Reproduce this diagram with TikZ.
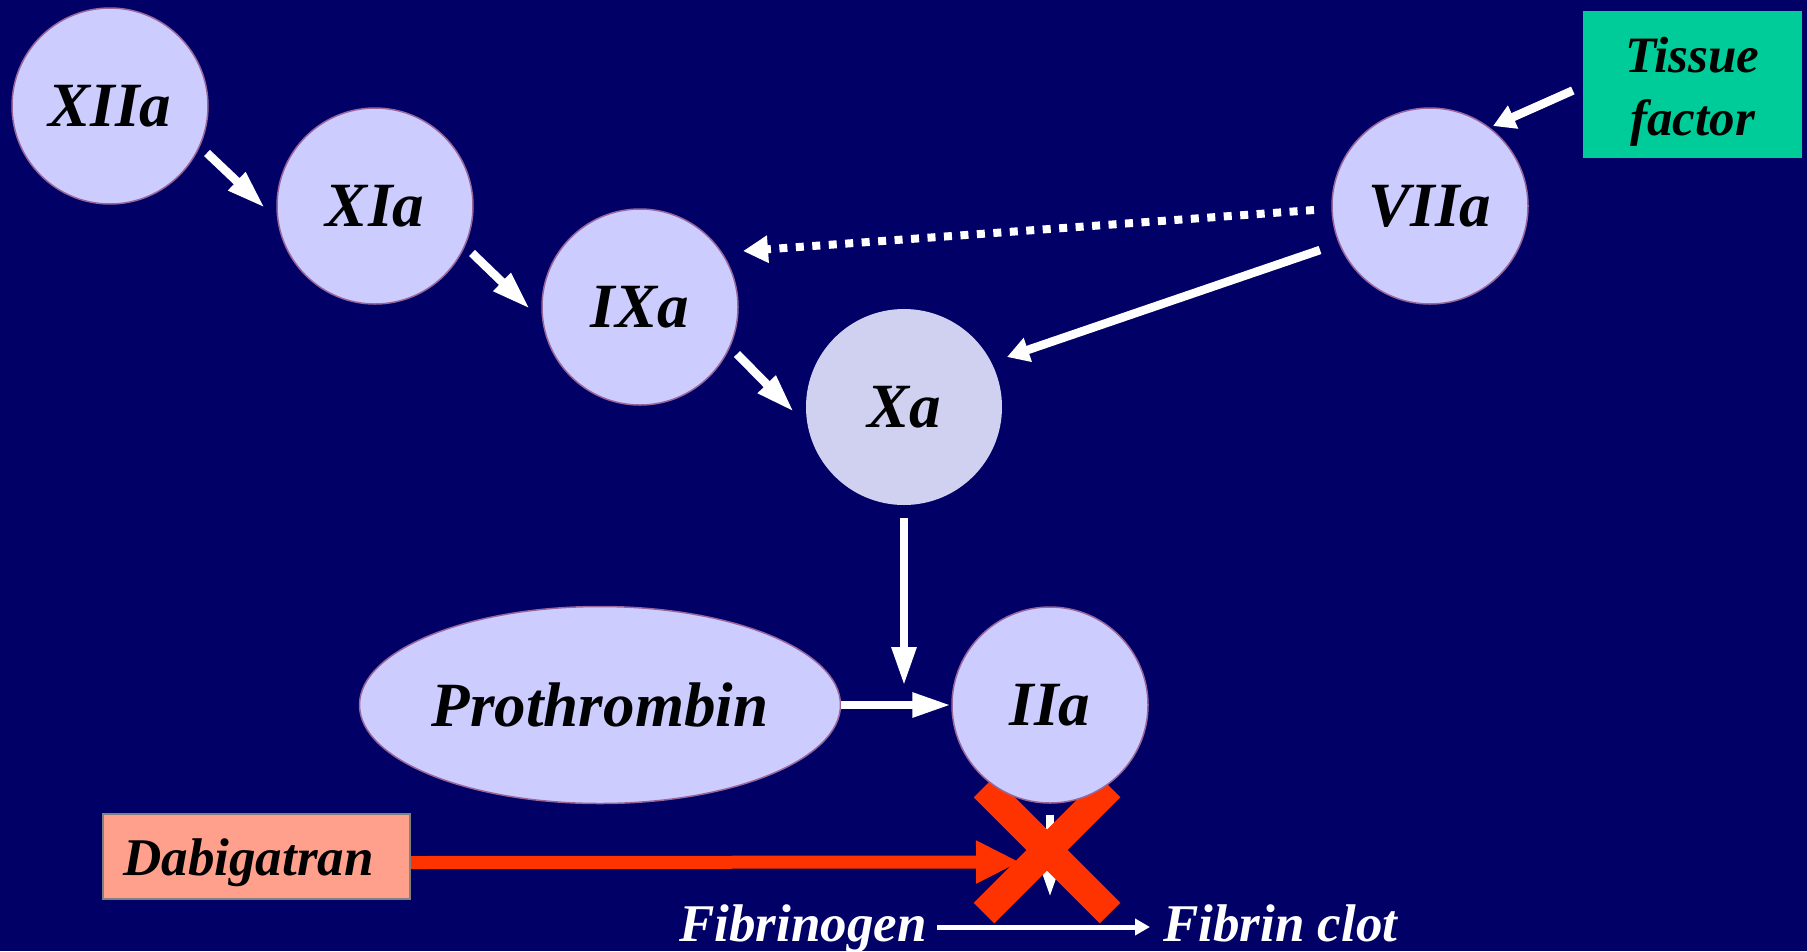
\documentclass[tikz,border=0pt]{standalone}
\usepackage{fontspec}
\setmainfont{Liberation Serif}
\usetikzlibrary{arrows.meta,calc,shapes.geometric}

\definecolor{navy}{HTML}{000066}
\definecolor{lilac}{HTML}{CCCCFF}
\definecolor{lilacgrey}{HTML}{D0D0F0}
\definecolor{rim}{HTML}{996699}
\definecolor{teal}{HTML}{00CC99}
\definecolor{salmon}{HTML}{FFA08C}
\definecolor{redx}{HTML}{FF3300}
\definecolor{boxgrey}{HTML}{808080}

\pgfdeclarelayer{bg}
\pgfdeclarelayer{under}
\pgfsetlayers{bg,under,main}

\begin{document}
\begin{tikzpicture}[x=1pt,y=-1pt,
  factor/.style={circle,minimum size=196pt,inner sep=0pt,draw=rim,line width=1.5pt,
    fill=lilac,font=\fontsize{63}{70}\selectfont\bfseries\itshape},
  tissuebox/.style={rectangle,minimum width=219pt,minimum height=147pt,inner sep=0pt,fill=teal},
  tissuetext/.style={align=center,inner sep=0pt,font=\fontsize{51}{63}\selectfont\bfseries\itshape},
  dabibox/.style={rectangle,minimum width=307pt,minimum height=85pt,inner sep=0pt,fill=salmon,
    draw=boxgrey,line width=2pt,text height=37pt,text depth=0pt,
    font=\fontsize{53}{60}\selectfont\bfseries\itshape},
  whitetext/.style={inner sep=0pt,text=white,font=\fontsize{53}{60}\selectfont\bfseries\itshape},
  flow/.style={draw=white,line width=8.5pt,-{Triangle[length=39pt,width=23pt]}},
  shortflow/.style={draw=white,line width=8.5pt,-{Triangle[length=22pt,width=24pt]}},
  dotflow/.style={draw=white,line width=8pt,dash pattern=on 8pt off 8.5pt,
    -{Triangle[length=25pt,width=26pt]}},
  thinflow/.style={draw=white,line width=5pt,-{Triangle[length=15pt,width=16pt]}},
  block/.style={draw=redx,line width=13pt,-{Triangle[length=44pt,width=40pt]}},
  cross/.style={draw=redx,line width=29pt}]

\begin{pgfonlayer}{bg}
  \fill[navy] (0,0) rectangle (1807,951);
\end{pgfonlayer}
\useasboundingbox (0,0) rectangle (1807,951);

% clotting factors
\node[factor] (XIIa) at (110,106) {XIIa};
\node[factor] (XIa) at (375,206) {XIa};
\node[factor] (IXa) at (640,307) {IXa};
\node[factor,draw=none,fill=lilacgrey] (Xa) at (904,407) {Xa};
\node[factor] (VIIa) at (1430,206) {VIIa};
\node[factor] (IIa) at (1050,705) {IIa};
\node[factor,ellipse,minimum width=481pt,minimum height=197pt] (pro) at (600,705) {Prothrombin};

% boxes
\node[tissuebox,label={[tissuetext,yshift=-7pt]center:Tissue\\factor}] (tf) at (1692.5,84.5) {};
\node[dabibox] (dabi) at (256.5,856.5) {Dabigatran\hspace*{16pt}};

% fibrin formation
\node[whitetext,anchor=base east] (fgn) at (927,941) {Fibrinogen};
\node[whitetext,anchor=base west] (clot) at (1163,941) {Fibrin clot};

% cascade arrows
\draw[flow] ($(XIIa)+(97,47)$) -- ($(XIa)+(-110,2)$);
\draw[flow] ($(XIa)+(97,47)$) -- ($(IXa)+(-110,2)$);
\draw[flow] ($(IXa)+(97,47)$) -- ($(Xa)+(-110,5)$);
\draw[flow] ($(Xa)+(0,111)$) -- ($(IIa)+(-146,-19)$);
\draw[flow] (pro.east) -- (IIa.west);
\draw[shortflow] ($(tf.west)+(-10,6)$) -- ($(VIIa)+(63,-80)$);
\draw[shortflow] ($(VIIa)+(-110,44)$) -- ($(Xa)+(103,-50)$);
\draw[dotflow] ($(VIIa)+(-116,4)$) -- ($(IXa)+(103,-56)$);
\draw[thinflow] ($(fgn.base east)+(10,-14)$) -- ($(clot.base west)+(-13,-14)$);

% inhibition by dabigatran, beneath thrombin
\begin{pgfonlayer}{under}
  \coordinate (hit) at (1047,850);
  \draw[block] ($(dabi.east)+(0,6)$) -- ($(hit)+(-27,12)$);
  \draw[flow] ($(IIa.south)+(0,11)$) -- ($(IIa.south)+(0,94)$);
  \draw[cross] ($(hit)+(-63,-63)$) -- ($(hit)+(63,63)$)
               ($(hit)+(-63,63)$) -- ($(hit)+(63,-63)$);
\end{pgfonlayer}
\end{tikzpicture}
\end{document}
